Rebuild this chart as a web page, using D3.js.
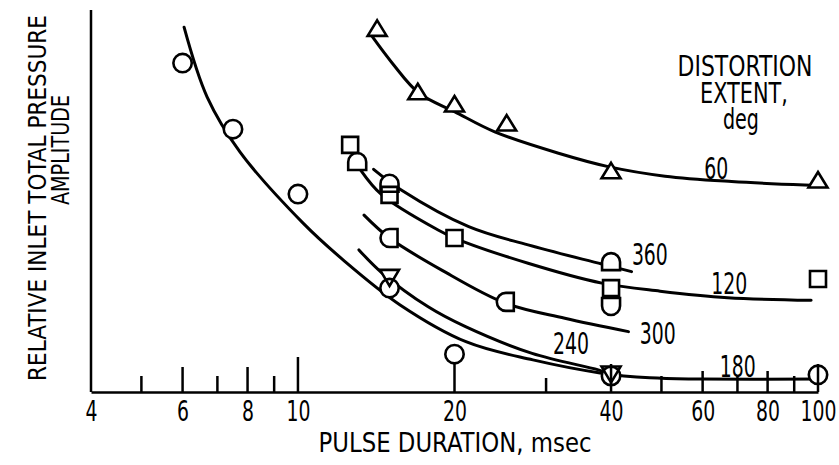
<!DOCTYPE html>
<html>
<head>
<meta charset="utf-8">
<script src="https://cdn.jsdelivr.net/npm/d3@7"></script>
<style>
  body { margin: 0; background: #fff; }
  svg { display: block; }
  text { font-family: "Liberation Sans Narrow", "DejaVu Sans Condensed", "Arial Narrow", sans-serif; fill: #000; }
</style>
</head>
<body>
<div class="chart"></div>
<script>

///////////////////////////////////////////////////
//  Data  (pulse duration ms, relative amplitude 0..1)
///////////////////////////////////////////////////

const tickValues = [5, 6, 7, 8, 9, 10, 20, 30, 40, 50, 60, 70, 80, 90, 100];
const tickLabels = [4, 6, 8, 10, 20, 40, 60, 80, 100];

const extents = ["60", "120", "180", "240", "300", "360"];

// test points
const pts60  = [[14.2, 0.952], [17.0, 0.786], [20, 0.754], [25.2, 0.704], [40, 0.579], [100, 0.555]];
const pts120 = [[12.6, 0.647], [15, 0.516], [20, 0.403], [40, 0.272], [100, 0.296]];
const pts180 = [[6.0, 0.861], [7.5, 0.688], [10, 0.518], [15, 0.272], [20, 0.099], [40, 0.042], [100, 0.045]];
const pts240 = [[15, 0.30], [40, 0.047]];
const pts300 = [[15, 0.403], [25.1, 0.236]];
const pts300b = [[40, 0.225]];
const pts360 = [[13.0, 0.602], [15, 0.545], [40, 0.340]];

// faired curves
const fit60  = [[13.9, 0.930], [15.2, 0.860], [17.1, 0.782], [20, 0.734], [23.9, 0.681], [31.7, 0.625],
                [39.5, 0.590], [50.8, 0.565], [68.2, 0.551], [94.3, 0.542], [100, 0.541]];
const fit120 = [[13.2, 0.581], [14.5, 0.516], [18.6, 0.424], [20, 0.403], [27.7, 0.337], [38.4, 0.285],
                [49.7, 0.264], [67, 0.247], [97, 0.240]];
const fit180 = [[6.04, 0.955], [6.69, 0.772], [7.74, 0.628], [10.23, 0.442], [12.21, 0.346], [15.72, 0.228],
                [21.1, 0.131], [28.3, 0.084], [38.1, 0.050], [47.5, 0.037], [59.3, 0.034], [100, 0.034]];
const fit240 = [[13.1, 0.372], [14.5, 0.312], [17.8, 0.223], [21, 0.171], [28.2, 0.101], [37.8, 0.058], [40, 0.047]];
const fit300 = [[13.4, 0.463], [15, 0.403], [18.9, 0.319], [25.1, 0.232], [32.6, 0.193], [43.2, 0.158]];
const fit360 = [[13.98, 0.583], [15.8, 0.529], [21.3, 0.433], [27.7, 0.385], [38.4, 0.335], [43.8, 0.315]];

// where each curve is labelled
const labelAt = [[63.7, 0.586], [67.5, 0.285], [70.1, 0.068], [33.5, 0.128], [49.2, 0.154], [47.5, 0.361]];

///////////////////////////////////////////////////
//  Styles
///////////////////////////////////////////////////

const shapes = {
  triUp: "M0,-8L9.5,7.5L-9.5,7.5Z",
  triDown: "M-9.5,-7.5L9.5,-7.5L0,8.5Z",
  square: "M-8,-8H8V8H-8Z",
  arch: "M-9,8V0A9,9 0 0 1 9,0V8Z",
  roundLeft: "M8,-9H0A9,9 0 0 0 0,9H8Z",
  roundBottom: "M-9,-8H9V0A9,9 0 0 1 -9,0Z"
};

// tick heights above the baseline
function tickLen(v) {
  if (v === 10) return 35;
  if (v === 6 || v === 8) return 25;
  if (v === 60 || v === 80) return 21;
  if (v === 20 || v === 40 || v === 100) return 28;
  if (v === 30) return 14;
  return 16;
}

const digitW = 12;   // narrow, tall figures like the original lettering

// squeeze a centred text horizontally to a given width
function squeeze(sel, w) {
  sel.each(function (d) {
    let t = d3.select(this);
    let n = this.getComputedTextLength();
    let s = w(d) / n;
    let tx = +t.attr('x') || 0, ty = +t.attr('y') || 0;
    t.attr('x', 0).attr('y', 0)
      .attr('transform', `translate(${tx},${ty}) scale(${s},1)`);
  });
}

const series = [
  { name: extents[0], pts: pts60,  fit: fit60,  shape: "triUp",     label: labelAt[0] },
  { name: extents[1], pts: pts120, fit: fit120, shape: "square",    label: labelAt[1] },
  { name: extents[2], pts: pts180, fit: fit180, shape: "circle",    label: labelAt[2] },
  { name: extents[3], pts: pts240, fit: fit240, shape: "triDown",   label: labelAt[3] },
  { name: extents[4], pts: pts300, fit: fit300, shape: "roundLeft", label: labelAt[4] },
  { name: extents[4], pts: pts300b, fit: null,  shape: "roundBottom", label: null },
  { name: extents[5], pts: pts360, fit: fit360, shape: "arch",      label: labelAt[5] }
];

///////////////////////////////////////////////////
//  Chart
///////////////////////////////////////////////////

let width = 839;
let height = 465;

let svg = d3.select('.chart')
  .append('svg')
    .attr('width', width)
    .attr('height', height);

let x = d3.scaleLog().domain([4, 100]).range([91, 818]);
let y = d3.scaleLinear().domain([0, 1]).range([392, 10]);

let line = d3.line()
  .x(d => x(d[0]))
  .y(d => y(d[1]))
  .curve(d3.curveCatmullRom.alpha(0.5));

// curves
svg.append('g')
  .selectAll('path')
  .data(series.filter(s => s.fit))
  .enter()
  .append('path')
    .attr('d', d => line(d.fit))
    .style('fill', 'none')
    .style('stroke', '#000')
    .style('stroke-width', 3)
    .style('stroke-linecap', 'round');

// markers: white fills first, outlines on top so overlapping symbols both show
let allPts = [];
series.forEach(s => s.pts.forEach(p => allPts.push({ p, shape: s.shape })));

function drawMarkers(fill, stroke) {
  let g = svg.append('g');
  g.selectAll('.m')
    .data(allPts)
    .enter()
    .each(function (d) {
      let sel = d3.select(this);
      let el = d.shape === 'circle'
        ? sel.append('circle').attr('r', 9.2)
        : sel.append('path').attr('d', shapes[d.shape]);
      el.attr('transform', `translate(${x(d.p[0])},${y(d.p[1])})`)
        .style('fill', fill)
        .style('stroke', stroke)
        .style('stroke-width', 2.6);
    });
}
drawMarkers('#fff', 'none');
drawMarkers('none', '#000');

// y axis line
svg.append('line')
  .attr('x1', x(4)).attr('x2', x(4))
  .attr('y1', 10).attr('y2', y(0))
  .style('stroke', '#000')
  .style('stroke-width', 2.5);

// x axis: baseline and labels
let xAxis = d3.axisBottom(x)
  .tickValues(tickLabels)
  .tickFormat(d3.format('d'))
  .tickSize(0)
  .tickSizeOuter(0);

let gx = svg.append('g')
  .attr('transform', `translate(0,${y(0)})`)
  .call(xAxis);

gx.select('.domain')
  .style('stroke', '#000')
  .style('stroke-width', 2.5);

gx.selectAll('text')
  .attr('y', 29)
  .attr('dy', null)
  .style('font-size', '29px')
  .style('font-family', null)
  .call(squeeze, d => String(d).length * digitW);

// upward ticks
svg.append('g')
  .selectAll('line')
  .data(tickValues)
  .enter()
  .append('line')
    .attr('x1', d => x(d)).attr('x2', d => x(d))
    .attr('y1', y(0)).attr('y2', d => y(0) - tickLen(d))
    .style('stroke', '#000')
    .style('stroke-width', 2.5);

// curve labels
svg.append('g')
  .selectAll('text')
  .data(series.filter(s => s.label))
  .enter()
  .append('text')
    .attr('x', d => x(d.label[0]))
    .attr('y', d => y(d.label[1]))
    .attr('dy', '0.36em')
    .attr('text-anchor', 'middle')
    .style('font-size', '30px')
    .text(d => d.name)
    .call(squeeze, d => d.name.length * digitW);

// axis titles
svg.append('text')
  .attr('x', 455)
  .attr('y', 452)
  .attr('text-anchor', 'middle')
  .attr('textLength', 273)
  .attr('lengthAdjust', 'spacingAndGlyphs')
  .style('font-size', '27px')
  .text('PULSE DURATION,  msec');

svg.append('text')
  .attr('transform', 'translate(46,198) rotate(-90)')
  .attr('text-anchor', 'middle')
  .attr('textLength', 366)
  .attr('lengthAdjust', 'spacingAndGlyphs')
  .style('font-size', '25px')
  .text('RELATIVE INLET TOTAL PRESSURE');

svg.append('text')
  .attr('transform', 'translate(69,150) rotate(-90)')
  .attr('text-anchor', 'middle')
  .attr('textLength', 110)
  .attr('lengthAdjust', 'spacingAndGlyphs')
  .style('font-size', '25px')
  .text('AMPLITUDE');

// legend heading
let legend = [['DISTORTION', 745, 76, 135], ['EXTENT,', 744, 103, 88], ['deg', 741, 129, 36]];
svg.append('g')
  .selectAll('text')
  .data(legend)
  .enter()
  .append('text')
    .attr('x', d => d[1])
    .attr('y', d => d[2])
    .attr('text-anchor', 'middle')
    .style('font-size', '28px')
    .text(d => d[0])
    .call(squeeze, d => d[3]);

</script>
</body>
</html>
